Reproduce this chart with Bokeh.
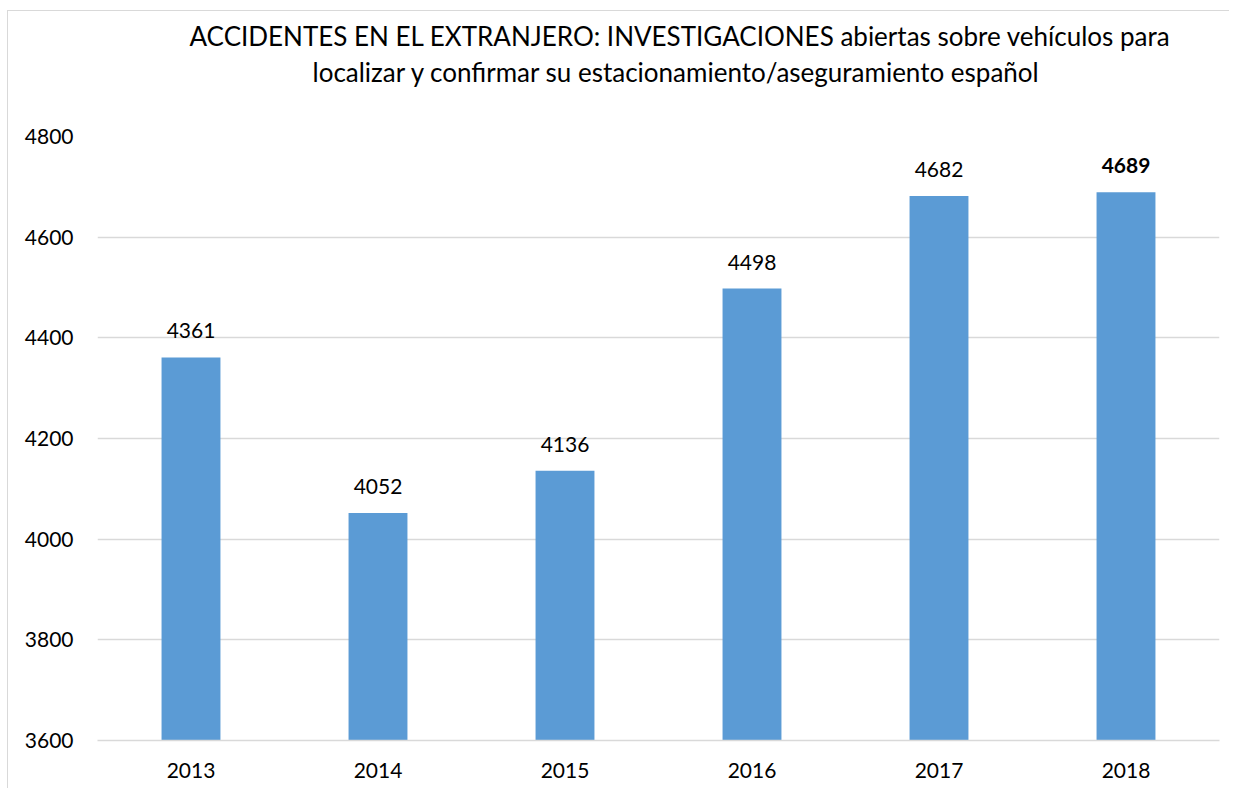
from bokeh.plotting import figure
from bokeh.models import ColumnDataSource, Title, Range1d, FactorRange, FixedTicker
from bokeh.embed import file_html
from bokeh.resources import INLINE
from bokeh.core.properties import value

years = ["2013", "2014", "2015", "2016", "2017", "2018"]
counts = [4361, 4052, 4136, 4498, 4682, 4689]
label_styles = ["normal", "normal", "normal", "normal", "normal", "bold"]
y_ticks = [3600, 3800, 4000, 4200, 4400, 4600, 4800]
title_lines = [
    "ACCIDENTES EN EL EXTRANJERO: INVESTIGACIONES abiertas sobre vehículos para",
    "localizar y confirmar su estacionamiento/aseguramiento español",
]

FONT = "Lato"
BAR_COLOR = "#5B9BD5"
GRID = "#d9d9d9"

source = ColumnDataSource(dict(
    year=years,
    count=counts,
    label=[str(c) for c in counts],
    style=label_styles,
))

p = figure(
    width=1222, height=778,
    x_range=FactorRange(*years),
    y_range=Range1d(y_ticks[0], y_ticks[-1]),
    output_backend="svg", toolbar_location=None,
    min_border_left=89, min_border_right=11,
    min_border_top=125, min_border_bottom=49,
)
p.title = None
p.outline_line_color = None
p.background_fill_color = "white"
p.border_fill_color = "white"
p.styles = {"margin-left": "7px", "margin-top": "10px",
            "border-left": "1px solid #d9d9d9", "border-top": "1px solid #d9d9d9"}

p.vbar(x="year", top="count", bottom=y_ticks[0], width=0.315, source=source,
       fill_color=BAR_COLOR, line_color=None)

p.text(x="year", y="count", text="label", source=source,
       text_font=value(FONT), text_font_size=value("21px"),
       text_font_style="style", text_color="#000000",
       text_align="center", text_baseline="bottom", y_offset=-19)

# titles (later added = farther from plot)
spacer = Title(text=" ", text_font_size="30px", text_font=FONT)
p.add_layout(spacer, "above")
offsets = [92, 215]
for line, off in reversed(list(zip(title_lines, offsets))):
    p.add_layout(Title(text=line, align="left", offset=off, text_font=FONT,
                       text_font_size="26px", text_font_style="normal",
                       standoff=2, text_color="#000000"), "above")

p.xgrid.grid_line_color = None
p.ygrid.grid_line_color = GRID
p.ygrid.grid_line_width = 1.5
p.ygrid.ticker = FixedTicker(ticks=y_ticks)

p.yaxis.ticker = FixedTicker(ticks=y_ticks)
p.yaxis.axis_line_color = None
p.yaxis.major_tick_line_color = None
p.yaxis.minor_tick_line_color = None
p.yaxis.major_label_text_font = FONT
p.yaxis.major_label_text_font_size = "21px"
p.yaxis.major_label_text_color = "#000000"
p.yaxis.major_label_standoff = 18

p.xaxis.axis_line_color = GRID
p.xaxis.axis_line_width = 1.5
p.xaxis.major_tick_line_color = None
p.xaxis.minor_tick_line_color = None
p.xaxis.major_label_text_font = FONT
p.xaxis.major_label_text_font_size = "21px"
p.xaxis.major_label_text_color = "#000000"
p.xaxis.major_label_standoff = 16

open("out.html", "w").write(file_html(p, INLINE))
